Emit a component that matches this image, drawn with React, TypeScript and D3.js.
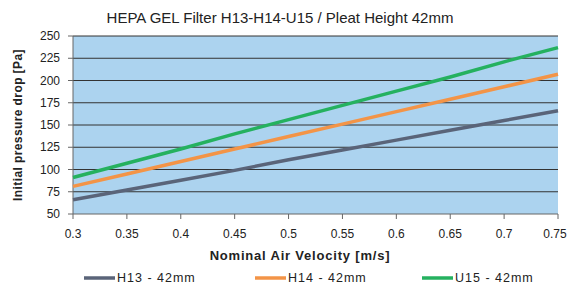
import React from 'react';
import * as d3 from 'd3';

// velocities on the x axis [m/s]
const velocities = [0.3, 0.35, 0.4, 0.45, 0.5, 0.55, 0.6, 0.65, 0.7, 0.75];

// initial pressure drop [Pa]
const h13 = [66, 77, 88, 99, 111, 122, 133, 144, 155, 166];
const h14 = [81, 95, 109, 123, 137, 151, 165, 179, 193, 207];
const u15 = [91, 107, 123, 140, 156, 172, 188, 204, 221, 237];

const seriesNames = ['H13 - 42mm', 'H14 - 42mm', 'U15 - 42mm'];
const seriesColors = ['#5a6479', '#f39447', '#25b15f'];

const yTicks = [50, 75, 100, 125, 150, 175, 200, 225, 250];
const xTicks = [0.3, 0.35, 0.4, 0.45, 0.5, 0.55, 0.6, 0.65, 0.7, 0.75];

const width = 567;
const height = 287;
const margin = { top: 36, right: 9, bottom: 73, left: 73 };
const font = '"Liberation Sans", Arial, sans-serif';

export default function App() {
    const innerWidth = width - margin.left - margin.right;
    const innerHeight = height - margin.top - margin.bottom;

    const x = d3.scaleLinear().domain([0.3, 0.75]).range([0, innerWidth]);
    const y = d3.scaleLinear().domain([50, 250]).range([innerHeight, 0]);

    const lineGen = d3.line<number>()
        .x((_, i) => x(velocities[i]))
        .y((d) => y(d));

    const series = [h13, h14, u15];
    const legendX = [84, 255, 422];

    return (
        <svg width={width} height={height}
            style={{ position: 'absolute', left: 0, top: 0, background: '#fff' }}>
            <text x={280} y={23} textAnchor="middle" fontFamily={font} fontSize={15}
                fill="#222">HEPA GEL Filter H13-H14-U15 / Pleat Height 42mm</text>
            <g transform={`translate(${margin.left},${margin.top})`}>
                <rect x={0} y={0} width={innerWidth} height={innerHeight} fill="#acd3ef" />
                {/* gridlines */}
                {yTicks.filter((t) => t > 50).map((t) => (
                    <line key={t} x1={0} x2={innerWidth} y1={y(t)} y2={y(t)}
                        stroke="#333" strokeWidth={1} />
                ))}
                {/* y axis */}
                <line x1={0} x2={0} y1={0} y2={innerHeight} stroke="#666" />
                {yTicks.map((t) => (
                    <g key={t}>
                        <line x1={-5} x2={0} y1={y(t)} y2={y(t)} stroke="#666" />
                        <text x={-13} y={y(t)} dy="0.35em" textAnchor="end" fontFamily={font}
                            fontSize={12} fill="#222">{t}</text>
                    </g>
                ))}
                {/* x axis */}
                <line x1={0} x2={innerWidth} y1={innerHeight} y2={innerHeight} stroke="#666" />
                {xTicks.map((t) => (
                    <g key={t}>
                        <line x1={x(t)} x2={x(t)} y1={innerHeight} y2={innerHeight + 5} stroke="#666" />
                        <text x={Math.min(x(t), innerWidth - 3)} y={innerHeight + 24} textAnchor="middle"
                            fontFamily={font} fontSize={12} fill="#222">{String(t)}</text>
                    </g>
                ))}
                {/* series */}
                {series.map((s, i) => (
                    <path key={i} d={lineGen(s) || ''} fill="none" stroke={seriesColors[i]}
                        strokeWidth={3.5} />
                ))}
            </g>
            <text transform="translate(22,125) rotate(-90)" textAnchor="middle" fontFamily={font}
                fontSize={12} fontWeight="bold" letterSpacing={0.4} fill="#222">Initial pressure drop [Pa]</text>
            <text x={300} y={260} textAnchor="middle" fontFamily={font} fontSize={13}
                fontWeight="bold" letterSpacing={0.8} fill="#222">Nominal Air Velocity [m/s]</text>
            {/* legend */}
            {seriesNames.map((n, i) => (
                <g key={n}>
                    <line x1={legendX[i]} x2={legendX[i] + 31} y1={278} y2={278}
                        stroke={seriesColors[i]} strokeWidth={3.5} />
                    <text x={legendX[i] + 33} y={278} dy="0.35em" fontFamily={font} fontSize={12.5}
                        letterSpacing={1} fill="#222">{n}</text>
                </g>
            ))}
        </svg>
    );
}
